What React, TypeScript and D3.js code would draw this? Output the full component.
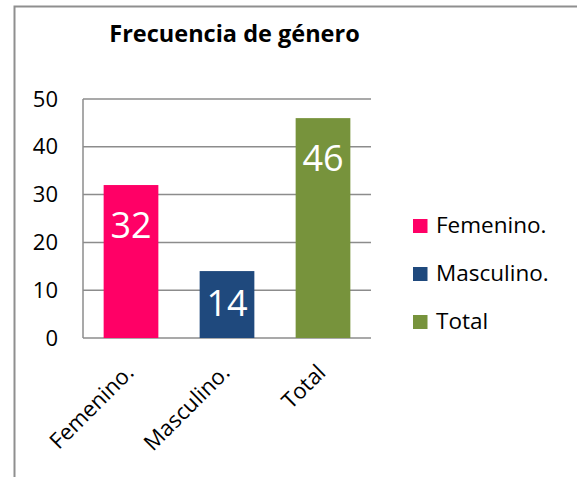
import React from "react";
import * as d3 from "d3";

// chart data
const categories = ["Femenino.", "Masculino.", "Total"];
const values = [32, 14, 46];
const yTicks = [0, 10, 20, 30, 40, 50];
const title = "Frecuencia de género";

const barColors = ["#FF0066", "#1F497D", "#77933C"];
const FONT = "'Open Sans', sans-serif";

export default function App() {
  const width = 577;
  const height = 477;
  const plot = { left: 83, right: 371, top: 99, bottom: 338 };

  const x = d3
    .scaleBand<string>()
    .domain(categories)
    .range([plot.left, plot.right])
    .paddingInner(0.43)
    .paddingOuter(0.215);

  const y = d3.scaleLinear().domain([0, 50]).range([plot.bottom, plot.top]);

  const color = d3.scaleOrdinal<string, string>().domain(categories).range(barColors);

  return (
    <svg
      width={width}
      height={height}
      style={{ position: "absolute", left: 0, top: 0, background: "#fff" }}
    >
      {/* chart frame (cropped on right/bottom) */}
      <path d={`M14.5,${height} V6.5 H${width}`} fill="none" stroke="#8f8f8f" strokeWidth={2} />

      <text
        x={234.5}
        y={42}
        textAnchor="middle"
        fontFamily={FONT}
        fontWeight="bold"
        fontSize={23.5}
        fill="#000"
      >
        {title}
      </text>

      {/* gridlines */}
      {yTicks.map((t) => (
        <line
          key={t}
          x1={plot.left}
          x2={plot.right}
          y1={y(t)}
          y2={y(t)}
          stroke="#8c8c8c"
          strokeWidth={1.5}
        />
      ))}
      <line x1={plot.left} x2={plot.left} y1={plot.top} y2={plot.bottom} stroke="#8c8c8c" strokeWidth={1.5} />

      {/* y tick labels */}
      {yTicks.map((t) => (
        <text key={t} x={58} y={y(t) + 7.5} textAnchor="end" fontFamily={FONT} fontSize={22} fill="#000">
          {t}
        </text>
      ))}

      {/* bars */}
      {categories.map((c, i) => (
        <rect
          key={c}
          x={x(c)}
          y={y(values[i])}
          width={x.bandwidth()}
          height={y(0) - y(values[i])}
          fill={color(c)}
        />
      ))}

      {/* value labels */}
      {categories.map((c, i) => (
        <text
          key={c}
          x={(x(c) as number) + x.bandwidth() / 2}
          y={Math.min(y(values[i]) + 52.5, y(0) - 22.5)}
          textAnchor="middle"
          fontFamily={FONT}
          fontSize={36}
          fill="#fff"
        >
          {values[i]}
        </text>
      ))}

      {/* category labels */}
      {categories.map((c) => {
        const cx = (x(c) as number) + x.bandwidth() / 2 + 4;
        const cy = 374;
        return (
          <text
            key={c}
            transform={`translate(${cx},${cy}) rotate(-45)`}
            textAnchor="end"
            fontFamily={FONT}
            fontSize={22}
            fill="#000"
          >
            {c}
          </text>
        );
      })}

      {/* legend */}
      {categories.map((c, i) => (
        <g key={c} transform={`translate(413,${219 + i * 48})`}>
          <rect width={14.5} height={14} fill={color(c)} />
          <text x={23} y={14} fontFamily={FONT} fontSize={22.5} fill="#000">
            {c}
          </text>
        </g>
      ))}
    </svg>
  );
}
